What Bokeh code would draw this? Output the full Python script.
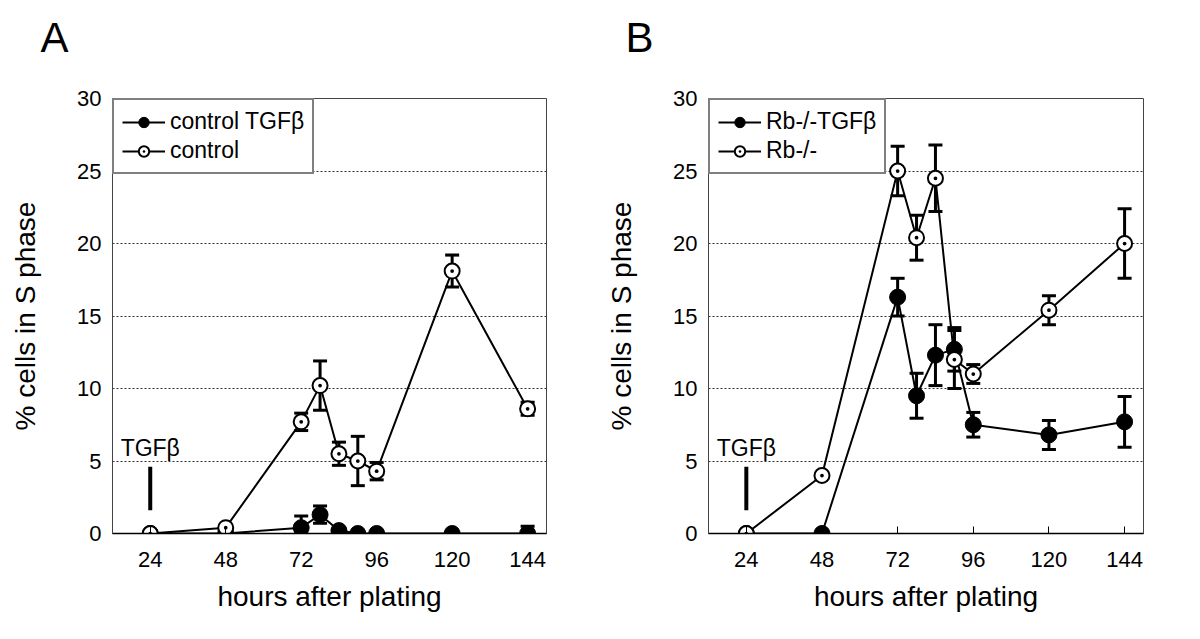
from bokeh.plotting import figure
from bokeh.layouts import row
from bokeh.models import (ColumnDataSource, Whisker, TeeHead, Legend, LegendItem,
                          FixedTicker, Label, Range1d, Title)
from bokeh.embed import file_html
from bokeh.resources import INLINE

hours = [24, 48, 72, 78, 84, 90, 96, 120, 144]
x_ticks = [24, 48, 72, 96, 120, 144]
y_ticks = [0, 5, 10, 15, 20, 25, 30]

# Panel A
ctrl_tgf = [0, 0, 0.4, 1.3, 0.2, 0, 0, 0, 0]
ctrl_tgf_err = [0, 0, 0.8, 0.6, 0, 0, 0, 0, 0.5]
ctrl = [0, 0.4, 7.7, 10.2, 5.5, 5.0, 4.3, 18.1, 8.6]
ctrl_err = [0, 0.1, 0.6, 1.7, 0.8, 1.7, 0.6, 1.1, 0.45]

# Panel B
rb_tgf = [0, 0, 16.3, 9.5, 12.3, 12.7, 7.5, 6.8, 7.7]
rb_tgf_err = [0, 0, 1.3, 1.55, 2.1, 1.5, 0.85, 1.0, 1.75]
rb = [0, 4.0, 25.0, 20.4, 24.5, 12.0, 11.0, 15.4, 20.0]
rb_err = [0, 0.2, 1.7, 1.55, 2.3, 2.0, 0.65, 1.0, 2.4]

tgf_bar = (24, 1.6, 4.6)
FONT = "Liberation Sans"


def make_panel(letter, letter_off, series_f, err_f, series_o, err_o,
               name_f, name_o, border, fw):
    left, right, top, bottom = border
    p = figure(width=left + fw + right, height=top + 435 + bottom, title=None,
               output_backend="svg", toolbar_location=None,
               x_range=Range1d(12, 150), y_range=Range1d(0, 30),
               min_border_left=left, min_border_right=right,
               min_border_top=top, min_border_bottom=bottom)
    # spacer between frame and panel letter, then the letter itself
    p.add_layout(Title(text=" ", text_font_size="10px", standoff=25), "above")
    p.add_layout(Title(text=letter, align="left", offset=letter_off, standoff=0,
                       text_font=FONT, text_font_size="42px",
                       text_font_style="normal", text_color="black"), "above")

    p.outline_line_color = "#444444"
    p.outline_line_width = 1
    p.background_fill_color = "white"
    p.border_fill_color = "white"
    p.xgrid.visible = False
    p.ygrid.ticker = FixedTicker(ticks=y_ticks)
    p.ygrid.grid_line_color = "#333333"
    p.ygrid.grid_line_dash = "2 2"
    p.ygrid.grid_line_width = 1

    p.xaxis.ticker = FixedTicker(ticks=x_ticks)
    p.yaxis.ticker = FixedTicker(ticks=y_ticks)
    for ax in (p.xaxis[0], p.yaxis[0]):
        ax.major_label_text_font = FONT
        ax.major_label_text_font_size = "22px"
        ax.major_label_text_color = "black"
        ax.axis_label_text_font = FONT
        ax.axis_label_text_font_size = "28px"
        ax.axis_label_text_font_style = "normal"
        ax.axis_label_text_color = "black"
        ax.minor_tick_line_color = None
        ax.major_tick_out = 0
    p.xaxis.major_tick_in = 7
    p.xaxis.major_tick_line_color = "black"
    p.xaxis.axis_line_color = "black"
    p.xaxis.axis_line_width = 1.5
    p.xaxis.major_label_standoff = 18
    p.xaxis.axis_label_standoff = 11
    p.xaxis.axis_label = "hours after plating"
    p.yaxis.major_tick_in = 0
    p.yaxis.axis_line_color = "#444444"
    p.yaxis.major_label_standoff = 11
    p.yaxis.axis_label_standoff = 33
    p.yaxis.axis_label = "% cells in S phase"

    # filled series
    lo_f = [max(0, v - e) for v, e in zip(series_f, err_f)]
    hi_f = [v + e for v, e in zip(series_f, err_f)]
    src_f = ColumnDataSource(dict(x=hours, y=series_f, lo=lo_f, hi=hi_f))
    lf = p.line("x", "y", source=src_f, line_color="black", line_width=2)
    p.add_layout(Whisker(source=src_f, base="x", lower="lo", upper="hi",
                         line_color="black", line_width=3,
                         upper_head=TeeHead(size=14, line_width=3, line_color="black"),
                         lower_head=TeeHead(size=14, line_width=3, line_color="black")))
    mf = p.scatter("x", "y", source=src_f, marker="circle", size=16,
                   fill_color="black", line_color="black", line_width=1)

    # open series
    lo_o = [max(0, v - e) for v, e in zip(series_o, err_o)]
    hi_o = [v + e for v, e in zip(series_o, err_o)]
    src_o = ColumnDataSource(dict(x=hours, y=series_o, lo=lo_o, hi=hi_o))
    lo_ = p.line("x", "y", source=src_o, line_color="black", line_width=2)
    p.add_layout(Whisker(source=src_o, base="x", lower="lo", upper="hi",
                         line_color="black", line_width=3,
                         upper_head=TeeHead(size=14, line_width=3, line_color="black"),
                         lower_head=TeeHead(size=14, line_width=3, line_color="black")))
    mo = p.scatter("x", "y", source=src_o, marker="circle_dot", size=15,
                   fill_color="white", line_color="black", line_width=2)

    # TGFbeta marker
    p.segment(x0=[tgf_bar[0]], y0=[tgf_bar[1]], x1=[tgf_bar[0]], y1=[tgf_bar[2]],
              line_color="black", line_width=4)
    p.add_layout(Label(x=tgf_bar[0], y=5.9, text="TGFβ", text_align="center",
                       text_baseline="alphabetic", text_font=FONT,
                       text_font_size="23px", text_color="black"))

    legend = Legend(items=[LegendItem(label=name_f, renderers=[lf, mf]),
                           LegendItem(label=name_o, renderers=[lo_, mo])],
                    location="top_left", margin=0, padding=8, spacing=2,
                    glyph_width=43, glyph_height=26, label_height=26,
                    label_standoff=5, label_text_font=FONT,
                    label_text_font_size="23px", label_text_color="black",
                    border_line_color="black", border_line_width=2,
                    background_fill_alpha=1.0)
    p.add_layout(legend)
    return p


pa = make_panel("A", -72, ctrl_tgf, ctrl_tgf_err, ctrl, ctrl_err,
                "control TGFβ", "control", (112, 54, 98, 99), 434)
pb = make_panel("B", -83, rb_tgf, rb_tgf_err, rb, rb_err,
                "Rb-/-TGFβ", "Rb-/-", (108, 49, 98, 99), 435)

layout = row(pa, pb)
open("out.html", "w").write(file_html(layout, INLINE))
